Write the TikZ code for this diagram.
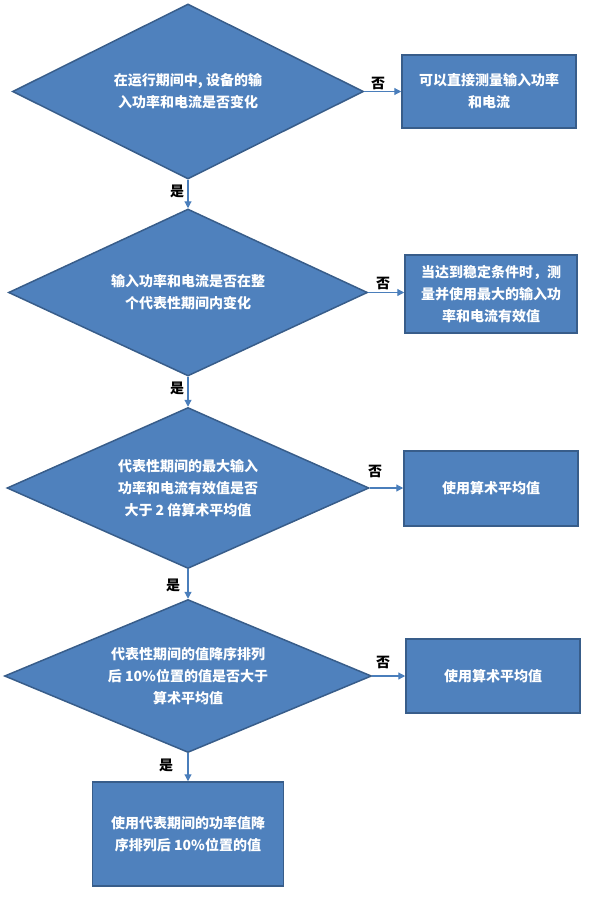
\documentclass[tikz,border=0pt]{standalone}
\usepackage{fontspec}
\setmainfont{Noto Sans CJK SC}
\usetikzlibrary{shapes.geometric,arrows.meta}
\definecolor{boxfill}{HTML}{4F81BD}
\definecolor{boxline}{HTML}{385D8A}
\definecolor{arrowcol}{HTML}{4A7EBB}
\begin{document}
\begin{tikzpicture}[x=1pt,y=-1pt,
  base/.style={fill=boxfill,draw=boxline,line width=1.5pt,text=white,
    font=\fontsize{14}{22}\selectfont\bfseries,align=center,inner sep=0pt},
  decision/.style={base,shape=diamond,aspect=2},
  process/.style={base,shape=rectangle},
  conn/.style={draw=arrowcol,line width=1.2pt,-{Triangle[length=7pt,width=7pt]}},
  lbl/.style={font=\fontsize{14}{16}\selectfont\bfseries,text=black,inner sep=0pt}]
\useasboundingbox (0,0) rectangle (589,899);
% decisions
\node[decision,minimum width=351pt,minimum height=175pt] (d1) at (188,91.5)
  {在运行期间中, 设备的输\\入功率和电流是否变化};
\node[decision,minimum width=359pt,minimum height=167pt] (d2) at (188,292.5)
  {输入功率和电流是否在整\\个代表性期间内变化};
\node[decision,minimum width=362pt,minimum height=161pt] (d3) at (188,488)
  {代表性期间的最大输入\\功率和电流有效值是否\\大于 2 倍算术平均值};
\node[decision,minimum width=367pt,minimum height=153pt] (d4) at (188,676)
  {代表性期间的值降序排列\\后 10\%位置的值是否大于\\算术平均值};
% processes
\node[process,minimum width=174pt,minimum height=73pt] (b1) at (489,91.5)
  {可以直接测量输入功率\\和电流};
\node[process,minimum width=172pt,minimum height=78pt] (b2) at (491,294)
  {当达到稳定条件时，测\\量并使用最大的输入功\\率和电流有效值};
\node[process,minimum width=174pt,minimum height=75pt] (b3) at (491,488.5)
  {使用算术平均值};
\node[process,minimum width=174pt,minimum height=74pt] (b4) at (493,676)
  {使用算术平均值};
\node[process,minimum width=191pt,minimum height=104pt] (b5) at (188,834)
  {使用代表期间的功率值降\\序排列后 10\%位置的值};
% connectors
\draw[conn] (d1.south) -- (d2.north);
\draw[conn] (d2.south) -- (d3.north);
\draw[conn] (d3.south) -- (d4.north);
\draw[conn] (d4.south) -- (b5.north);
\draw[conn] (d1.east) -- (d1.east -| b1.west);
\draw[conn] (d2.east) -- (d2.east -| b2.west);
\draw[conn] (d3.east) -- (d3.east -| b3.west);
\draw[conn] (d4.east) -- (d4.east -| b4.west);
% labels
\node[lbl] (n1) at (378,83) {否};
\node[lbl] (n2) at (383,283) {否};
\node[lbl] (n3) at (375,471) {否};
\node[lbl] (n4) at (383,662) {否};
\node[lbl] (y1) at (177,191) {是};
\node[lbl] (y2) at (177,388) {是};
\node[lbl] (y3) at (173,585) {是};
\node[lbl] (y4) at (166,765) {是};
\end{tikzpicture}
\end{document}
